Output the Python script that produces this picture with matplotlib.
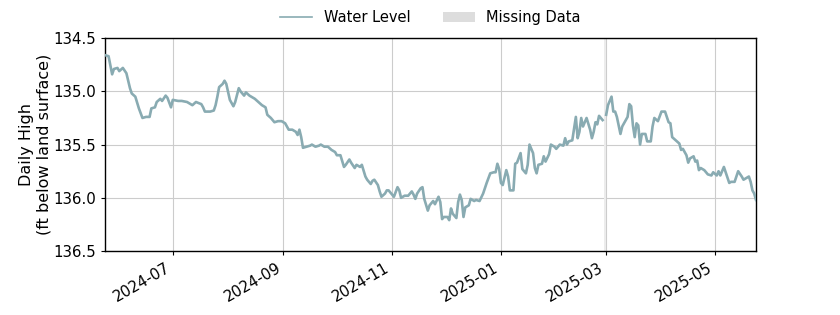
import matplotlib
matplotlib.use("Agg")
import matplotlib.pyplot as plt
import matplotlib.dates as mdates
from matplotlib.lines import Line2D
from matplotlib.patches import Patch
import numpy as np
import pandas as pd

dates = [
    "2024-05-24","2024-05-26","2024-05-28","2024-05-29","2024-05-31","2024-06-01","2024-06-03","2024-06-05",
    "2024-06-07","2024-06-08","2024-06-10","2024-06-12","2024-06-14","2024-06-16","2024-06-18","2024-06-19",
    "2024-06-21","2024-06-22","2024-06-24","2024-06-25","2024-06-27","2024-06-28","2024-06-30","2024-07-01",
    "2024-07-04","2024-07-06","2024-07-09","2024-07-12","2024-07-14","2024-07-17","2024-07-18","2024-07-19",
    "2024-07-22","2024-07-24","2024-07-25","2024-07-26","2024-07-27","2024-07-29","2024-07-30","2024-07-31",
    "2024-08-02","2024-08-04","2024-08-05","2024-08-07","2024-08-08","2024-08-10","2024-08-11","2024-08-13",
    "2024-08-16","2024-08-18","2024-08-20","2024-08-22","2024-08-23","2024-08-25","2024-08-27","2024-08-29",
    "2024-08-31","2024-09-02","2024-09-04","2024-09-06","2024-09-08","2024-09-09","2024-09-10","2024-09-11",
    "2024-09-12","2024-09-14","2024-09-16","2024-09-17","2024-09-19","2024-09-21","2024-09-22","2024-09-24",
    "2024-09-26","2024-09-28","2024-09-30","2024-10-01","2024-10-03","2024-10-05","2024-10-06","2024-10-08",
    "2024-10-09","2024-10-11","2024-10-12","2024-10-14","2024-10-15","2024-10-17","2024-10-18","2024-10-20",
    "2024-10-21","2024-10-22","2024-10-24","2024-10-25","2024-10-26","2024-10-28","2024-10-29","2024-10-30",
    "2024-11-01","2024-11-02","2024-11-04","2024-11-05","2024-11-06","2024-11-08","2024-11-10","2024-11-12",
    "2024-11-13","2024-11-14","2024-11-15","2024-11-17","2024-11-18","2024-11-19","2024-11-21","2024-11-22",
    "2024-11-24","2024-11-25","2024-11-27","2024-11-28","2024-11-29","2024-11-30","2024-12-02","2024-12-03",
    "2024-12-04","2024-12-05","2024-12-07","2024-12-08","2024-12-09","2024-12-10","2024-12-11","2024-12-12",
    "2024-12-14","2024-12-15","2024-12-17","2024-12-18","2024-12-20","2024-12-22","2024-12-24","2024-12-26",
    "2024-12-28","2024-12-29","2024-12-30","2024-12-31","2025-01-01","2025-01-02","2025-01-04","2025-01-05",
    "2025-01-06","2025-01-08","2025-01-09","2025-01-10","2025-01-12","2025-01-13","2025-01-15","2025-01-16",
    "2025-01-17","2025-01-19","2025-01-20","2025-01-21","2025-01-22","2025-01-24","2025-01-25","2025-01-26",
    "2025-01-28","2025-01-29","2025-01-31","2025-02-01","2025-02-03","2025-02-05","2025-02-06","2025-02-07",
    "2025-02-08","2025-02-10","2025-02-11","2025-02-12","2025-02-13","2025-02-14","2025-02-15","2025-02-16",
    "2025-02-18","2025-02-20","2025-02-21","2025-02-22","2025-02-23","2025-02-24","2025-02-25","2025-02-26",
    "2025-02-27","2025-02-28","2025-03-01","2025-03-02","2025-03-04","2025-03-05","2025-03-06","2025-03-07",
    "2025-03-09","2025-03-10","2025-03-12","2025-03-13","2025-03-14","2025-03-15","2025-03-16","2025-03-17",
    "2025-03-18","2025-03-19","2025-03-20","2025-03-21","2025-03-23","2025-03-24","2025-03-26","2025-03-27",
    "2025-03-28","2025-03-30","2025-04-01","2025-04-03","2025-04-05","2025-04-06","2025-04-07","2025-04-09",
    "2025-04-11","2025-04-12","2025-04-13","2025-04-15","2025-04-16","2025-04-17","2025-04-19","2025-04-20",
    "2025-04-21","2025-04-22","2025-04-23","2025-04-25","2025-04-27","2025-04-29","2025-04-30","2025-05-02",
    "2025-05-03","2025-05-04","2025-05-06","2025-05-07","2025-05-09","2025-05-10","2025-05-12","2025-05-14",
    "2025-05-16","2025-05-17","2025-05-18","2025-05-20","2025-05-21","2025-05-22","2025-05-23","2025-05-24",
]

water_level = [
    134.66,134.67,134.84,134.79,134.78,134.81,134.78,134.83,
    134.97,135.02,135.05,135.16,135.25,135.24,135.24,135.16,
    135.15,135.10,135.07,135.09,135.04,135.06,135.15,135.08,
    135.09,135.09,135.10,135.13,135.10,135.12,135.15,135.19,
    135.19,135.18,135.13,135.05,134.96,134.93,134.90,134.93,
    135.08,135.14,135.10,134.97,135.00,135.04,135.01,135.04,
    135.07,135.10,135.13,135.15,135.22,135.25,135.29,135.28,
    135.28,135.30,135.36,135.36,135.38,135.41,135.36,135.43,
    135.53,135.52,135.51,135.50,135.52,135.51,135.50,135.52,
    135.52,135.55,135.57,135.60,135.60,135.71,135.69,135.64,
    135.67,135.72,135.69,135.71,135.69,135.80,135.83,135.87,
    135.84,135.83,135.88,135.94,135.99,135.96,135.93,135.93,
    135.97,135.99,135.90,135.93,136.00,135.98,135.98,135.94,
    135.97,136.01,135.96,135.91,135.90,136.01,136.12,136.07,
    136.03,136.06,135.99,136.04,136.20,136.18,136.18,136.21,
    136.10,136.15,136.19,136.04,135.97,136.02,136.18,136.09,
    136.07,136.01,136.03,136.02,136.03,135.96,135.86,135.77,
    135.76,135.76,135.68,135.73,135.86,135.88,135.74,135.80,
    135.93,135.93,135.68,135.67,135.58,135.73,135.77,135.69,
    135.50,135.58,135.72,135.77,135.69,135.68,135.61,135.66,
    135.59,135.50,135.52,135.54,135.50,135.51,135.44,135.50,
    135.47,135.46,135.35,135.24,135.44,135.38,135.25,135.33,
    135.25,135.36,135.44,135.38,135.29,135.31,135.23,135.25,
    135.27,np.nan,135.22,135.13,135.05,135.19,135.19,135.24,
    135.40,135.33,135.27,135.24,135.12,135.14,135.32,135.43,
    135.30,135.32,135.50,135.40,135.40,135.47,135.47,135.33,
    135.25,135.28,135.19,135.19,135.29,135.30,135.43,135.46,
    135.49,135.55,135.54,135.60,135.67,135.63,135.61,135.66,
    135.65,135.74,135.72,135.74,135.78,135.79,135.76,135.79,
    135.75,135.79,135.71,135.76,135.86,135.85,135.85,135.75,
    135.80,135.83,135.82,135.80,135.85,135.93,135.96,136.02,
]

missing_dates = ["2025-02-28"]

y_ticks = [134.5, 135.0, 135.5, 136.0, 136.5]
x_ticks = ["2024-07-01", "2024-09-01", "2024-11-01", "2025-01-01", "2025-03-01", "2025-05-01"]

line_color = "#89abb2"

plt.rcParams["font.family"] = ["DejaVu Sans"]

x = pd.to_datetime(dates)
y = np.array(water_level, dtype=float)

fig = plt.figure(figsize=(8.4, 3.15), dpi=100)
ax = fig.add_axes([0.125, 0.203, 0.775, 0.676])

# shade each missing stretch between the neighbouring valid readings
for d in pd.to_datetime(missing_dates):
    i = int(np.where(x == d)[0][0])
    ax.axvspan(x[i - 1] + pd.Timedelta(hours=12), x[i + 1], color="#ececec", zorder=1, lw=0)

ax.plot(x, y, color=line_color, lw=1.9, zorder=3)

ax.set_xlim(x[0], x[-1])
ax.set_ylim(136.5, 134.5)
ax.set_yticks(y_ticks)
ax.set_yticklabels([f"{v:.1f}" for v in y_ticks])
ax.set_xticks(pd.to_datetime(x_ticks))
ax.xaxis.set_major_formatter(mdates.DateFormatter("%Y-%m"))
plt.setp(ax.get_xticklabels(), rotation=30, ha="right")
ax.tick_params(axis="both", labelsize=10.8, length=3, width=0.8)
ax.grid(True, color="#cccccc", lw=0.8, zorder=0)
ax.set_axisbelow(True)
for s in ax.spines.values():
    s.set_color("black")
    s.set_linewidth(1.0)

ax.set_ylabel("Daily High\n(ft below land surface)", fontsize=11.5, labelpad=1)

handles = [Line2D([0], [0], color=line_color, lw=1.2),
           Patch(facecolor="#dddddd", edgecolor="none")]
ax.legend(handles, ["Water Level", "Missing Data"], loc="lower center",
          bbox_to_anchor=(0.5, 1.0), ncol=2, frameon=False, fontsize=10.5,
          handlelength=2.2, columnspacing=2.2)

fig.savefig("out.png", dpi=100)
